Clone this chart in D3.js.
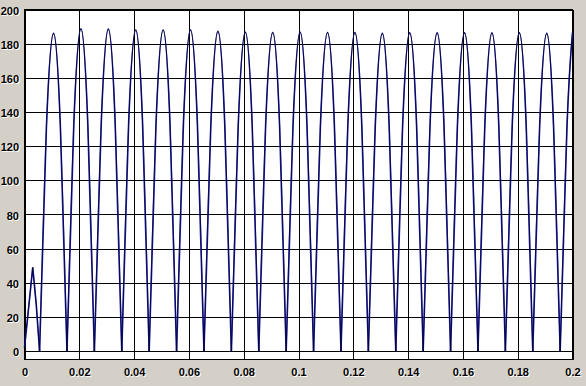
<!DOCTYPE html>
<html>
<head>
<meta charset="utf-8">
<script src="https://cdn.jsdelivr.net/npm/d3@7"></script>
<style>
  body { margin: 0; background: #d4d0c8; }
  .axis text { font-family: "Liberation Sans", Arial, sans-serif; font-size: 11px; font-weight: bold; }
  .axis path { display: none; }
  .axis line { stroke: #000; shape-rendering: crispEdges; }
</style>
</head>
<body>
<div id="chart"></div>
<script>
// time (s) and value, one hump per line
var times = [
  0, 0.0013, 0.0030, 0.0043, 0.0055,
  0.0080, 0.0106, 0.0131, 0.0155,
  0.0180, 0.0206, 0.0231, 0.0255,
  0.0280, 0.0306, 0.0331, 0.0355,
  0.0380, 0.0406, 0.0431, 0.0455,
  0.0480, 0.0506, 0.0531, 0.0555,
  0.0580, 0.0606, 0.0631, 0.0655,
  0.0680, 0.0706, 0.0731, 0.0755,
  0.0780, 0.0806, 0.0831, 0.0855,
  0.0880, 0.0906, 0.0931, 0.0955,
  0.0980, 0.1006, 0.1031, 0.1055,
  0.1080, 0.1106, 0.1131, 0.1155,
  0.1180, 0.1206, 0.1231, 0.1255,
  0.1280, 0.1306, 0.1331, 0.1355,
  0.1380, 0.1406, 0.1431, 0.1455,
  0.1480, 0.1506, 0.1531, 0.1555,
  0.1580, 0.1606, 0.1631, 0.1655,
  0.1680, 0.1706, 0.1731, 0.1755,
  0.1780, 0.1806, 0.1831, 0.1855,
  0.1880, 0.1906, 0.1931, 0.1955,
  0.1980, 0.2000
];
var values = [
  2, 22, 49, 27, 0,
  131, 186, 131, 0,
  133, 188.7, 133, 0,
  133, 188.5, 133, 0,
  133, 188, 133, 0,
  133, 188, 133, 0,
  133, 188, 133, 0,
  132, 187.2, 132, 0,
  132, 186.7, 132, 0,
  132, 186.5, 132, 0,
  132, 186.7, 132, 0,
  132, 186.5, 132, 0,
  132, 186.5, 132, 0,
  131, 186, 131, 0,
  132, 186.3, 132, 0,
  132, 186.3, 132, 0,
  132, 186.3, 132, 0,
  132, 186.3, 132, 0,
  132, 186.3, 132, 0,
  131, 186, 131, 0,
  132, 186.5
];

var xTicks = [0, 0.02, 0.04, 0.06, 0.08, 0.1, 0.12, 0.14, 0.16, 0.18, 0.2];
var xTickLabels = ["0", "0.02", "0.04", "0.06", "0.08", "0.1", "0.12", "0.14", "0.16", "0.18", "0.2"];
var yTicks = [0, 20, 40, 60, 80, 100, 120, 140, 160, 180, 200];

var width = 586, height = 386;

var x = d3.scaleLinear().domain([0, 0.2]).range([24.5, 572.5]);
var y = d3.scaleLinear().domain([-5, 200]).range([359.5, 9.5]);

var svg = d3.select("#chart").append("svg")
    .attr("width", width)
    .attr("height", height);

var plotH = y.range()[0] - y.range()[1];
var plotW = x.range()[1] - x.range()[0];

svg.append("rect")
    .attr("x", x.range()[0])
    .attr("y", y.range()[1])
    .attr("width", plotW)
    .attr("height", plotH)
    .attr("fill", "#fff");

var gx = svg.append("g")
    .attr("class", "axis")
    .attr("transform", "translate(0," + y.range()[0] + ")")
    .call(d3.axisBottom(x)
        .tickValues(xTicks)
        .tickFormat(function(d, i) { return xTickLabels[i]; })
        .tickSizeInner(-plotH)
        .tickSizeOuter(0));
gx.selectAll("text").attr("y", 16.5).attr("dy", 0);

var gy = svg.append("g")
    .attr("class", "axis")
    .attr("transform", "translate(" + x.range()[0] + ",0)")
    .call(d3.axisLeft(y)
        .tickValues(yTicks)
        .tickSizeInner(-plotW)
        .tickSizeOuter(0));
gy.selectAll("text").attr("x", -5.5).attr("dy", "0.42em");

// embossed look: white copy under each label
svg.selectAll(".axis text").each(function() {
    d3.select(this).attr("fill", "#000").clone(true).lower()
        .attr("fill", "#fff")
        .attr("transform", "translate(1,1)");
});

svg.append("rect")
    .attr("x", x.range()[0])
    .attr("y", y.range()[1])
    .attr("width", plotW)
    .attr("height", plotH)
    .attr("fill", "none")
    .attr("stroke", "#000")
    .attr("shape-rendering", "crispEdges");

// split into humps at the zero points
var pts = times.map(function(t, i) { return [t, values[i]]; });
var humps = [], cur = [];
pts.forEach(function(p, i) {
    cur.push(p);
    if (p[1] === 0 && i > 0) { humps.push(cur); cur = [p]; }
});
if (cur.length > 1) humps.push(cur);

var line = d3.line()
    .x(function(d) { return x(d[0]); })
    .y(function(d) { return y(d[1]); })
    .curve(d3.curveNatural);
// first small hump is close to a triangle
var firstLine = d3.line()
    .x(function(d) { return x(d[0]); })
    .y(function(d) { return y(d[1]); });

function draw(d, i) { return i === 0 ? firstLine(d) : line(d); }

var plot = svg.append("g");
plot.selectAll(".blue").data(humps).enter().append("path")
    .attr("class", "blue")
    .attr("d", draw)
    .attr("fill", "none")
    .attr("stroke", "#1414a8")
    .attr("stroke-width", 1.6);
plot.selectAll(".black").data(humps).enter().append("path")
    .attr("class", "black")
    .attr("d", draw)
    .attr("fill", "none")
    .attr("stroke", "#000")
    .attr("stroke-opacity", 0.7)
    .attr("stroke-width", 0.8);
</script>
</body>
</html>
